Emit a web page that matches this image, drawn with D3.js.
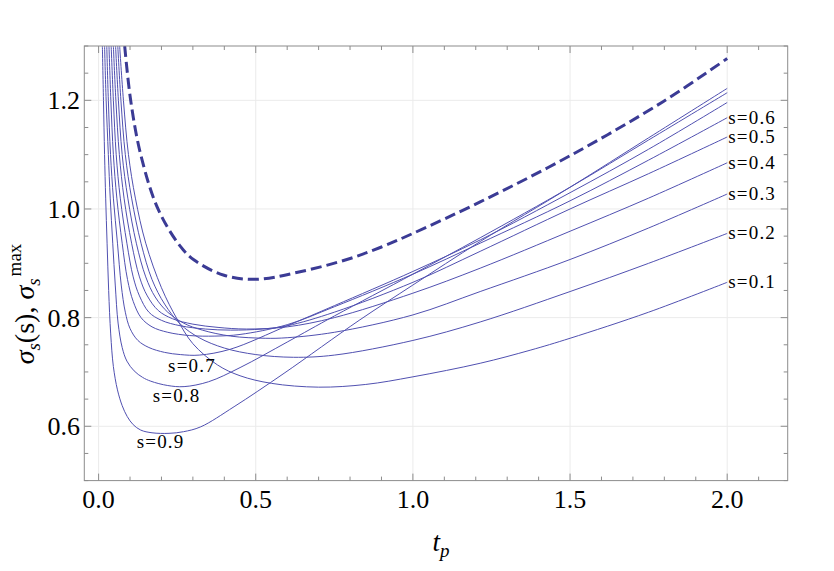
<!DOCTYPE html>
<html>
<head>
<meta charset="utf-8">
<script src="https://cdn.jsdelivr.net/npm/d3@7"></script>
<style>
  html, body { margin: 0; padding: 0; background: #ffffff; }
  svg { display: block; }
  text { font-family: "Liberation Serif", "Times New Roman", "DejaVu Serif", serif; fill: #000; }
</style>
</head>
<body>
<svg id="chart" width="834" height="571"></svg>
<script>
// ---------------- data ----------------
const sLabels = ["s=0.1","s=0.2","s=0.3","s=0.4","s=0.5","s=0.6","s=0.7","s=0.8","s=0.9"];

// each curve: [t_p, sigma_s(s)]
const s01 = [[0.067,1.3],[0.079,1.2],[0.095,1.1],[0.117,1.02],[0.15,0.937],[0.2,0.855],[0.25,0.797],[0.3,0.752],[0.378,0.713],[0.45,0.693],[0.55,0.679],[0.7,0.672],[0.85,0.677],[1.0,0.691],[1.214,0.716],[1.373,0.740],[1.5,0.762],[1.75,0.810],[2.0,0.865]];
const s02 = [[0.061,1.3],[0.071,1.2],[0.085,1.1],[0.105,1.02],[0.135,0.937],[0.17,0.87],[0.21,0.825],[0.26,0.788],[0.32,0.763],[0.4,0.744],[0.5,0.732],[0.62,0.727],[0.75,0.731],[1.0,0.758],[1.214,0.792],[1.5,0.848],[1.75,0.9],[2.0,0.955]];
const s03 = [[0.054,1.3],[0.063,1.2],[0.075,1.1],[0.093,1.02],[0.12,0.937],[0.15,0.875],[0.18,0.838],[0.22,0.81],[0.27,0.79],[0.33,0.777],[0.42,0.766],[0.53,0.762],[0.6,0.763],[0.75,0.773],[1.0,0.805],[1.214,0.848],[1.5,0.907],[1.75,0.965],[2.0,1.0275]];
const s04 = [[0.047,1.3],[0.055,1.2],[0.066,1.1],[0.081,1.02],[0.105,0.937],[0.13,0.875],[0.155,0.84],[0.19,0.813],[0.235,0.798],[0.3,0.788],[0.38,0.782],[0.47,0.779],[0.6,0.783],[0.75,0.8],[1.0,0.845],[1.214,0.891],[1.5,0.959],[1.75,1.02],[2.0,1.085]];
const s05 = [[0.040,1.3],[0.047,1.2],[0.056,1.1],[0.069,1.02],[0.09,0.937],[0.11,0.875],[0.13,0.84],[0.16,0.81],[0.2,0.795],[0.26,0.785],[0.34,0.779],[0.42,0.777],[0.52,0.779],[0.6,0.785],[0.75,0.81],[1.0,0.865],[1.214,0.922],[1.5,1.0],[1.75,1.065],[2.0,1.1325]];
const s06 = [[0.033,1.3],[0.039,1.2],[0.047,1.1],[0.058,1.02],[0.075,0.937],[0.092,0.87],[0.11,0.83],[0.135,0.8],[0.17,0.783],[0.22,0.773],[0.29,0.767],[0.37,0.766],[0.45,0.769],[0.6,0.787],[0.75,0.82],[1.0,0.88],[1.214,0.937],[1.5,1.015],[1.75,1.09],[2.0,1.168]];
const s07 = [[0.026,1.3],[0.031,1.2],[0.038,1.1],[0.047,1.02],[0.06,0.937],[0.072,0.86],[0.085,0.81],[0.1,0.78],[0.125,0.758],[0.16,0.745],[0.21,0.736],[0.26,0.732],[0.32,0.731],[0.42,0.742],[0.6,0.785],[0.75,0.822],[1.0,0.885],[1.214,0.943],[1.5,1.03],[1.75,1.11],[2.0,1.196]];
const s08 = [[0.019,1.3],[0.024,1.2],[0.031,1.1],[0.037,1.02],[0.045,0.937],[0.053,0.86],[0.062,0.79],[0.075,0.745],[0.09,0.72],[0.113,0.702],[0.14,0.69],[0.166,0.683],[0.22,0.675],[0.272,0.673],[0.35,0.682],[0.45,0.708],[0.6,0.755],[0.75,0.803],[1.0,0.88],[1.214,0.947],[1.5,1.04],[1.75,1.127],[2.0,1.214]];
const s09 = [[0.012,1.3],[0.0155,1.2],[0.019,1.1],[0.0225,1.02],[0.027,0.937],[0.032,0.85],[0.0385,0.77],[0.047,0.71],[0.06,0.667],[0.075,0.638],[0.091,0.618],[0.11,0.603],[0.134,0.593],[0.17,0.588],[0.224,0.587],[0.27,0.590],[0.325,0.599],[0.431,0.636],[0.59,0.6975],[0.829,0.795],[1.0,0.86],[1.214,0.94],[1.5,1.04],[1.75,1.131],[2.0,1.222]];
const sigmaMax = [[0.083,1.3],[0.102,1.2],[0.134,1.1],[0.189,1.0],[0.259,0.932],[0.304,0.906],[0.399,0.878],[0.503,0.8705],[0.63,0.883],[0.79,0.907],[0.9,0.93],[1.0,0.955],[1.214,1.013],[1.5,1.098],[1.797,1.198],[2.0,1.277]];

const curves = [s01, s02, s03, s04, s05, s06, s07, s08, s09];

const xTickValues = [0, 0.5, 1.0, 1.5, 2.0];
const yTickValues = [0.6, 0.8, 1.0, 1.2];
const xMinorStep = 0.1;
const yMinorStep = 0.05;

// label anchor points (t_p, sigma) for the labels near the minima of s=0.7, 0.8, 0.9
const minLabelIdx = [6, 7, 8];
const minLabelT = [0.221, 0.172, 0.121];
const minLabelY = [0.700, 0.645, 0.5595];

// ---------------- layout ----------------
const svg = d3.select("#chart");
const pLeft = 84.3, pRight = 787.7, pTop = 46, pBottom = 480.6;
const x = d3.scaleLinear().domain([-0.0455, 2.1925]).range([pLeft, pRight]);
const y = d3.scaleLinear().domain([0.5, 1.3]).range([pBottom, pTop]);

const lineColor = "#5050b0";
const dashColor = "#3b3b95";
const frameColor = "#8c8c8c";
const gridColor = "#ebebeb";

// grid
const g = svg.append("g");
g.selectAll("line.gx").data(xTickValues).enter().append("line")
  .attr("x1", d => x(d)).attr("x2", d => x(d)).attr("y1", pTop).attr("y2", pBottom)
  .attr("stroke", gridColor).attr("stroke-width", 1);
g.selectAll("line.gy").data(yTickValues).enter().append("line")
  .attr("y1", d => y(d)).attr("y2", d => y(d)).attr("x1", pLeft).attr("x2", pRight)
  .attr("stroke", gridColor).attr("stroke-width", 1);

// clip
svg.append("clipPath").attr("id", "clip").append("rect")
  .attr("x", pLeft).attr("y", pTop).attr("width", pRight - pLeft).attr("height", pBottom - pTop);

const line = d3.line().x(d => x(d[0])).y(d => y(d[1])).curve(d3.curveCatmullRom.alpha(0.5));

const plot = svg.append("g").attr("clip-path", "url(#clip)");
plot.selectAll("path.s").data(curves).enter().append("path")
  .attr("d", line).attr("fill", "none").attr("stroke", lineColor).attr("stroke-width", 1);
plot.append("path").datum(sigmaMax).attr("d", line).attr("fill", "none")
  .attr("stroke", dashColor).attr("stroke-width", 3).attr("stroke-dasharray", "11,5");

// frame ticks (inward, on all sides)
const xMinor = d3.range(0, 2.2 + 1e-9, xMinorStep).map(v => +v.toFixed(2));
const yMinor = d3.range(0.5, 1.3 + 1e-9, yMinorStep).map(v => +v.toFixed(2));
const isMajorX = v => xTickValues.some(t => Math.abs(t - v) < 1e-6);
const isMajorY = v => yTickValues.some(t => Math.abs(t - v) < 1e-6);
const ticks = svg.append("g").attr("stroke", frameColor).attr("stroke-width", 1);
xMinor.forEach(v => {
  if (x(v) < pLeft || x(v) > pRight) return;
  const L = isMajorX(v) ? 7 : 4;
  ticks.append("line").attr("x1", x(v)).attr("x2", x(v)).attr("y1", pBottom).attr("y2", pBottom - L);
  ticks.append("line").attr("x1", x(v)).attr("x2", x(v)).attr("y1", pTop).attr("y2", pTop + L);
});
yMinor.forEach(v => {
  if (y(v) > pBottom + 0.5 || y(v) < pTop - 0.5) return;
  const L = isMajorY(v) ? 7 : 4;
  ticks.append("line").attr("y1", y(v)).attr("y2", y(v)).attr("x1", pLeft).attr("x2", pLeft + L);
  ticks.append("line").attr("y1", y(v)).attr("y2", y(v)).attr("x1", pRight).attr("x2", pRight - L);
});

// frame
svg.append("rect").attr("x", pLeft).attr("y", pTop).attr("width", pRight - pLeft).attr("height", pBottom - pTop)
  .attr("fill", "none").attr("stroke", frameColor).attr("stroke-width", 1);

// tick labels
svg.selectAll("text.xt").data(xTickValues).enter().append("text")
  .attr("x", d => x(d)).attr("y", 508).attr("text-anchor", "middle")
  .attr("font-size", 26).text(d => d.toFixed(1));
svg.selectAll("text.yt").data(yTickValues).enter().append("text")
  .attr("x", 80).attr("y", d => y(d) + 9).attr("text-anchor", "end")
  .attr("font-size", 26).text(d => d.toFixed(1));

// curve labels on the right
const rightIdx = [0, 1, 2, 3, 4, 5];
svg.selectAll("text.rl").data(rightIdx).enter().append("text")
  .attr("x", d => x(2.0) + 1)
  .attr("y", d => y(curves[d][curves[d].length - 1][1]) + 6)
  .attr("font-size", 19).attr("letter-spacing", 1.2)
  .text(d => sLabels[d]);

// labels near the minima for s=0.7, 0.8, 0.9
svg.selectAll("text.ll").data(minLabelIdx).enter().append("text")
  .attr("x", (d, i) => x(minLabelT[i])).attr("y", (d, i) => y(minLabelY[i]))
  .attr("font-size", 19).attr("letter-spacing", 1.2)
  .text(d => sLabels[d]);

// axis labels
const xl = svg.append("text").attr("x", 441).attr("y", 551).attr("text-anchor", "middle").attr("font-size", 27);
xl.append("tspan").attr("font-style", "italic").text("t");
xl.append("tspan").attr("font-style", "italic").attr("font-size", 19).attr("dy", 6).text("p");

const yl = svg.append("text").attr("transform", "translate(34,304) rotate(-90)")
  .attr("text-anchor", "middle").attr("font-size", 28);
yl.append("tspan").attr("font-style", "italic").text("σ");
yl.append("tspan").attr("font-style", "italic").attr("font-size", 19).attr("dy", 6).text("s");
yl.append("tspan").attr("dy", -6).text("(s), ");
yl.append("tspan").attr("font-style", "italic").text("σ");
yl.append("tspan").attr("font-style", "italic").attr("font-size", 19).attr("dy", 6).text("s");
yl.append("tspan").attr("font-size", 19).attr("dy", -19).attr("dx", 2).text("max");
</script>
</body>
</html>
